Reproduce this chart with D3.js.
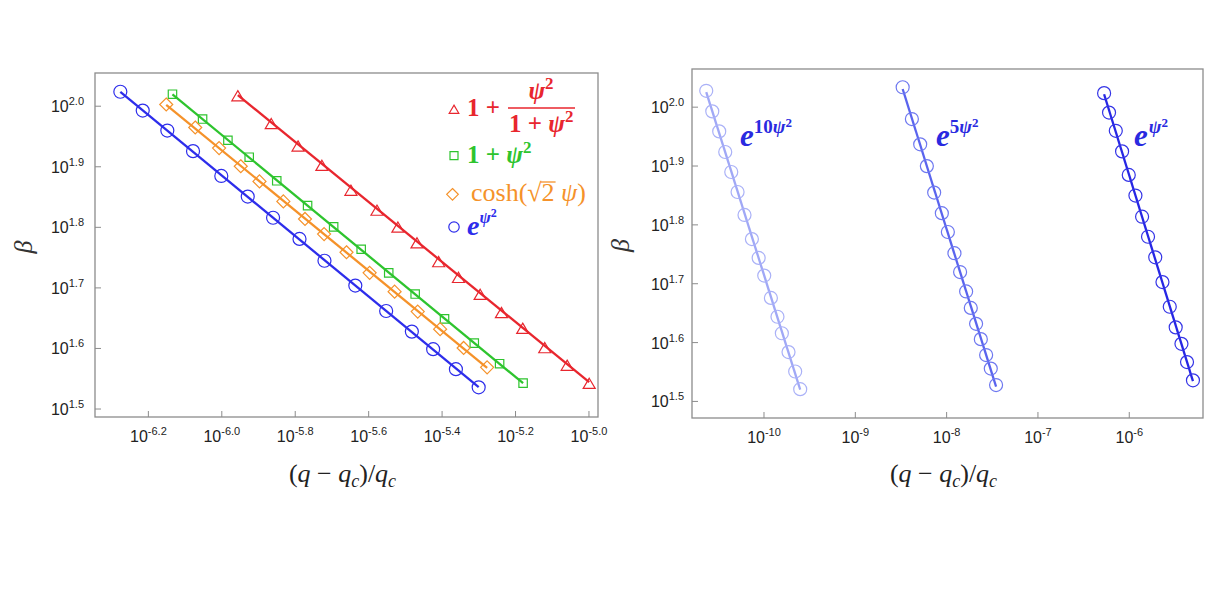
<!DOCTYPE html>
<html>
<head>
<meta charset="utf-8">
<script src="https://cdn.jsdelivr.net/npm/d3@7"></script>
<style>
  body { margin: 0; background: #fff; }
  text { font-family: "Liberation Sans", Arial, sans-serif; }
  text.math, .math text { font-family: "Liberation Serif", "DejaVu Serif", serif; }
</style>
</head>
<body>
<svg id="chart" width="1220" height="594"></svg>
<script>
// all values are log10 of the plotted quantity

// left panel
const redX = [-5.955, -5.864, -5.791, -5.726, -5.647, -5.576, -5.519, -5.467, -5.408, -5.354, -5.295, -5.237, -5.179, -5.119, -5.058, -4.998];
const redY = [2.019, 1.973, 1.936, 1.904, 1.863, 1.830, 1.802, 1.776, 1.745, 1.719, 1.691, 1.661, 1.635, 1.603, 1.574, 1.544];
const greenX = [-6.133, -6.051, -5.982, -5.924, -5.849, -5.765, -5.694, -5.619, -5.544, -5.472, -5.392, -5.311, -5.242, -5.178];
const greenY = [2.019, 1.978, 1.943, 1.915, 1.876, 1.835, 1.800, 1.763, 1.724, 1.689, 1.648, 1.608, 1.574, 1.542];
const orangeX = [-6.150, -6.071, -6.006, -5.947, -5.896, -5.831, -5.772, -5.720, -5.659, -5.596, -5.528, -5.465, -5.404, -5.340, -5.276];
const orangeY = [2.002, 1.964, 1.930, 1.900, 1.875, 1.842, 1.813, 1.788, 1.758, 1.724, 1.693, 1.660, 1.631, 1.600, 1.568];
const blueX = [-6.275, -6.214, -6.147, -6.077, -6.000, -5.928, -5.859, -5.787, -5.719, -5.635, -5.551, -5.481, -5.423, -5.361, -5.299];
const blueY = [2.023, 1.992, 1.959, 1.925, 1.884, 1.850, 1.815, 1.780, 1.744, 1.703, 1.661, 1.627, 1.598, 1.565, 1.535];

// right panel
const e10X = [-10.627, -10.561, -10.485, -10.419, -10.353, -10.284, -10.208, -10.127, -10.053, -9.992, -9.919, -9.847, -9.799, -9.726, -9.653, -9.598];
const e10Y = [2.027, 1.992, 1.958, 1.923, 1.889, 1.855, 1.816, 1.775, 1.743, 1.713, 1.675, 1.643, 1.615, 1.583, 1.550, 1.520];
const e5X = [-8.476, -8.375, -8.284, -8.211, -8.131, -8.047, -7.981, -7.909, -7.847, -7.781, -7.730, -7.672, -7.620, -7.562, -7.511, -7.453];
const e5Y = [2.033, 1.979, 1.936, 1.899, 1.854, 1.819, 1.787, 1.751, 1.719, 1.686, 1.658, 1.631, 1.605, 1.578, 1.555, 1.527];
const e1X = [-6.270, -6.216, -6.142, -6.073, -6.000, -5.927, -5.854, -5.789, -5.710, -5.631, -5.551, -5.486, -5.423, -5.362, -5.297];
const e1Y = [2.023, 1.990, 1.959, 1.924, 1.884, 1.849, 1.813, 1.779, 1.744, 1.702, 1.660, 1.625, 1.597, 1.566, 1.535];

const leftXTicks = [-6.2, -6.0, -5.8, -5.6, -5.4, -5.2, -5.0];
const rightXTicks = [-10, -9, -8, -7, -6];
const yTicks = [1.5, 1.6, 1.7, 1.8, 1.9, 2.0];

const svg = d3.select('#chart');
const pow = e => Math.pow(10, e);
const frameColor = '#8c8c8c';

function marker(g, type, cx, cy, color, s) {
  let d;
  if (type == 'circle') d = d3.arc()({innerRadius: 0, outerRadius: s, startAngle: 0, endAngle: 2 * Math.PI});
  else if (type == 'square') d = `M${-s},${-s}H${s}V${s}H${-s}Z`;
  else if (type == 'diamond') d = `M0,${-s}L${s},0L0,${s}L${-s},0Z`;
  else d = `M0,${-s * 0.6}L${s},${s * 1.1}L${-s},${s * 1.1}Z`;
  g.append('path')
    .attr('d', d)
    .attr('transform', `translate(${cx},${cy})`)
    .attr('fill', 'none')
    .attr('stroke', color)
    .attr('stroke-width', 1.2);
}

// least squares line in log space, drawn between the first and last point
function fit(xs, ys) {
  const mx = d3.mean(xs), my = d3.mean(ys);
  const b = d3.sum(xs, (x, i) => (x - mx) * (ys[i] - my)) / d3.sum(xs, x => (x - mx) ** 2);
  const x0 = d3.min(xs), x1 = d3.max(xs);
  return [[x0, my + b * (x0 - mx)], [x1, my + b * (x1 - mx)]];
}

function panel(box, xDom, yDom, xTicks, xFmt, yPad, series) {
  const x = d3.scaleLog().domain(xDom.map(pow)).range([box.x0, box.x1]);
  const y = d3.scaleLog().domain(yDom.map(pow)).range([box.y1, box.y0]);
  const g = svg.append('g');

  g.append('rect')
    .attr('x', box.x0).attr('y', box.y0)
    .attr('width', box.x1 - box.x0).attr('height', box.y1 - box.y0)
    .attr('fill', 'none').attr('stroke', frameColor).attr('stroke-width', 1.3);

  const xa = g.append('g')
    .attr('transform', `translate(0,${box.y1})`)
    .call(d3.axisBottom(x).tickValues(xTicks.map(pow)).tickSize(-6).tickSizeOuter(0).tickFormat(''));
  xa.select('.domain').remove();
  xa.selectAll('.tick line').attr('stroke', frameColor);
  xa.selectAll('.tick text').remove();
  xa.selectAll('.tick').each(function(d) {
    const t = d3.select(this).append('text')
      .attr('y', 25).attr('text-anchor', 'middle').attr('fill', '#222').attr('font-size', 16);
    t.append('tspan').text('10');
    t.append('tspan').attr('dy', -7).attr('font-size', 11).text(xFmt(Math.log10(d)));
  });

  const ya = g.append('g')
    .attr('transform', `translate(${box.x0},0)`)
    .call(d3.axisLeft(y).tickValues(yTicks.map(pow)).tickSize(-6).tickSizeOuter(0).tickFormat(''));
  ya.select('.domain').remove();
  ya.selectAll('.tick line').attr('stroke', frameColor);
  ya.selectAll('.tick text').remove();
  ya.selectAll('.tick').each(function(d) {
    const t = d3.select(this).append('text')
      .attr('x', -yPad).attr('y', 6).attr('text-anchor', 'end').attr('fill', '#222').attr('font-size', 16);
    t.append('tspan').text('10');
    t.append('tspan').attr('dy', -7).attr('font-size', 11).text(Math.log10(d).toFixed(1));
  });

  const line = d3.line().x(p => x(pow(p[0]))).y(p => y(pow(p[1])));
  series.forEach(s => {
    g.append('path')
      .attr('d', line(fit(s.xs, s.ys)))
      .attr('fill', 'none').attr('stroke', s.line || s.color).attr('stroke-width', 2.3);
    s.xs.forEach((v, i) => marker(g, s.type, x(pow(v)), y(pow(s.ys[i])), s.color, s.size));
  });

  // axis titles
  const cx = (box.x0 + box.x1) / 2;
  const xt = g.append('text').attr('class', 'math').attr('x', cx - 4).attr('y', 482)
    .attr('text-anchor', 'middle').attr('font-size', 26).attr('fill', '#222');
  xt.append('tspan').text('(');
  xt.append('tspan').attr('font-style', 'italic').text('q');
  xt.append('tspan').text(' − ');
  xt.append('tspan').attr('font-style', 'italic').text('q');
  xt.append('tspan').attr('font-style', 'italic').attr('font-size', 18).attr('dy', 5).text('c');
  xt.append('tspan').attr('dy', -5).text(')/');
  xt.append('tspan').attr('font-style', 'italic').text('q');
  xt.append('tspan').attr('font-style', 'italic').attr('font-size', 18).attr('dy', 5).text('c');

  g.append('text').attr('class', 'math')
    .attr('transform', `translate(${box.x0 - 63},${(box.y0 + box.y1) / 2 + 2}) rotate(-90)`)
    .attr('text-anchor', 'middle').attr('font-size', 26).attr('font-style', 'italic')
    .attr('fill', '#333').text('β');

  return {x, y, g};
}

const red = '#e8262e', green = '#2ec42e', orange = '#f5922a', blue = '#2d2deb';

panel({x0: 95, x1: 598, y0: 73, y1: 417}, [-6.344, -4.974], [1.486, 2.054],
  leftXTicks, v => '-' + Math.abs(v).toFixed(1), 11, [
    {xs: redX, ys: redY, color: red, type: 'triangle', size: 6},
    {xs: greenX, ys: greenY, color: green, type: 'square', size: 4.2},
    {xs: orangeX, ys: orangeY, color: orange, type: 'diamond', size: 6.5},
    {xs: blueX, ys: blueY, color: blue, type: 'circle', size: 6.5}
  ]);

panel({x0: 692, x1: 1203, y0: 69, y1: 418}, [-10.783, -5.187], [1.471, 2.064],
  rightXTicks, v => '-' + Math.round(Math.abs(v)), 8, [
    {xs: e10X, ys: e10Y, color: '#aab1f7', line: '#a0a8f6', type: 'circle', size: 6.5},
    {xs: e5X, ys: e5Y, color: '#6e78f0', line: '#5a64ee', type: 'circle', size: 6.5},
    {xs: e1X, ys: e1Y, color: '#3434e6', line: '#2626e4', type: 'circle', size: 6.5}
  ]);

// legend of the left panel
const lg = svg.append('g').attr('class', 'math').attr('font-weight', 'bold').attr('font-size', 25);
marker(lg, 'triangle', 454, 108, red, 4.8);
marker(lg, 'square', 454, 155.7, green, 4);
marker(lg, 'diamond', 452.5, 194.3, orange, 5.8);
marker(lg, 'circle', 454, 227, blue, 5.2);

function psi2(t, size) {
  t.append('tspan').attr('font-style', 'italic').text('ψ');
  t.append('tspan').attr('dy', -10).attr('font-size', size).text('2');
}

let t = lg.append('text').attr('x', 467).attr('y', 116).attr('fill', red);
t.text('1 + ');
t = lg.append('text').attr('x', 541).attr('y', 99).attr('fill', red).attr('text-anchor', 'middle');
psi2(t, 17);
lg.append('line').attr('x1', 508).attr('x2', 575).attr('y1', 108).attr('y2', 108)
  .attr('stroke', red).attr('stroke-width', 1.6);
t = lg.append('text').attr('x', 509).attr('y', 132).attr('fill', red);
t.append('tspan').text('1 + ');
psi2(t, 17);

t = lg.append('text').attr('x', 467).attr('y', 163).attr('fill', green);
t.append('tspan').text('1 + ');
psi2(t, 17);

t = lg.append('text').attr('x', 471).attr('y', 201).attr('fill', orange).attr('font-weight', 'normal').attr('font-size', 26);
t.append('tspan').text('cosh(√');
t.append('tspan').text('2');
t.append('tspan').text(' ');
t.append('tspan').attr('font-style', 'italic').text('ψ');
t.append('tspan').text(')');
{
  const n = t.node();
  const start = n.getStartPositionOfChar(6).x, end = n.getEndPositionOfChar(6).x;
  lg.append('line').attr('x1', start - 1).attr('x2', end + 1).attr('y1', 182).attr('y2', 182)
    .attr('stroke', orange).attr('stroke-width', 1.3);
}

t = lg.append('text').attr('x', 467).attr('y', 235).attr('fill', blue).attr('font-size', 28);
t.append('tspan').attr('font-style', 'italic').text('e');
t.append('tspan').attr('dy', -12).attr('font-size', 17).attr('font-style', 'italic').text('ψ');
t.append('tspan').attr('dy', -6).attr('font-size', 12).text('2');

// labels of the right panel
const rightLabels = [
  {x: 740, pre: '10'},
  {x: 936, pre: '5'},
  {x: 1134, pre: ''}
];
rightLabels.forEach(l => {
  const tt = svg.append('text').attr('class', 'math').attr('font-weight', 'bold')
    .attr('x', l.x).attr('y', 146).attr('fill', '#2a2ae0').attr('font-size', 31);
  tt.append('tspan').attr('font-style', 'italic').text('e');
  if (l.pre) tt.append('tspan').attr('dy', -13).attr('font-size', 19).text(l.pre);
  tt.append('tspan').attr('font-size', 19).attr('font-style', 'italic')
    .attr('dy', l.pre ? 0 : -13).attr('dx', l.pre ? 0 : 1).text('ψ');
  tt.append('tspan').attr('dy', -6).attr('font-size', 13).text('2');
});
</script>
</body>
</html>
